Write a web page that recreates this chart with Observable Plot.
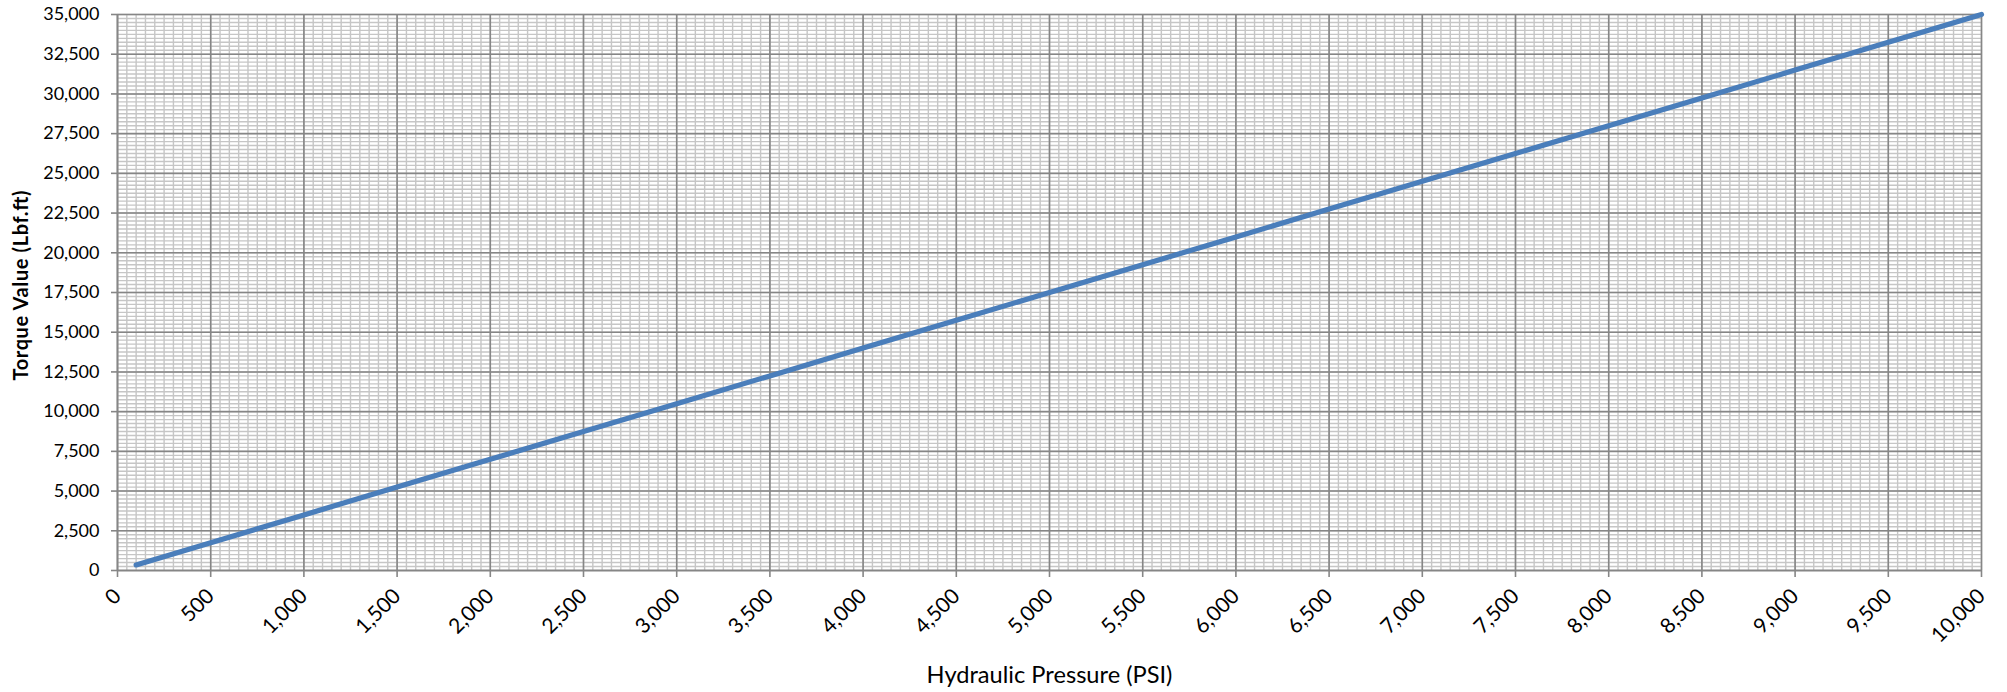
<!DOCTYPE html>
<html>
<head>
<meta charset="utf-8">
<script src="https://cdn.jsdelivr.net/npm/d3@7"></script>
<script src="https://cdn.jsdelivr.net/npm/@observablehq/plot@0.6"></script>
<style>
  html, body { margin: 0; padding: 0; background: #fff; }
  #chart svg { display: block; }
</style>
</head>
<body>
<div id="chart"></div>
<script>
// Hydraulic pressure (PSI) readings and the corresponding torque (Lbf.ft)
const pressure = [100, 500, 1000, 1500, 2000, 2500, 3000, 3500, 4000, 4500, 5000,
                  5500, 6000, 6500, 7000, 7500, 8000, 8500, 9000, 9500, 10000];
const torque   = [350, 1750, 3500, 5250, 7000, 8750, 10500, 12250, 14000, 15750, 17500,
                  19250, 21000, 22750, 24500, 26250, 28000, 29750, 31500, 33250, 35000];
const xTicks = d3.range(0, 10001, 500);
const yTicks = d3.range(0, 35001, 2500);
const xMinor = d3.range(0, 10001, 50);
const yMinor = d3.range(0, 35001, 250);
const xTitle = "Hydraulic Pressure (PSI)";
const yTitle = "Torque Value (Lbf.ft)";

const data = pressure.map((p, i) => ({p, t: torque[i]}));
const font = "Lato, 'Open Sans', sans-serif";

const chart = Plot.plot({
  width: 2007,
  height: 692,
  marginTop: 14,
  marginBottom: 122,
  marginLeft: 117,
  marginRight: 26,
  style: {fontFamily: font, fontSize: "18px", color: "#000", background: "#fff"},
  x: {domain: [0, 10000]},
  y: {domain: [0, 35000]},
  marks: [
    Plot.gridX(xMinor, {stroke: "#c6c6c6", strokeOpacity: 1, strokeWidth: 1.4}),
    Plot.gridY(yMinor, {stroke: "#c6c6c6", strokeOpacity: 1, strokeWidth: 1.4}),
    Plot.gridX(xTicks, {stroke: "#868686", strokeOpacity: 1, strokeWidth: 1.6}),
    Plot.gridY(yTicks, {stroke: "#868686", strokeOpacity: 1, strokeWidth: 1.6}),
    Plot.axisY(yTicks, {tickFormat: d3.format(","), tickSize: 6, tickPadding: 12,
      stroke: "#868686", strokeWidth: 1.6, fontSize: 18, label: null}),
    Plot.axisX(xTicks, {tickFormat: d3.format(","), tickSize: 7, tickPadding: 15, tickRotate: -45,
      stroke: "#868686", strokeWidth: 1.6, fontSize: 21, label: null}),
    Plot.ruleX([0], {stroke: "#868686", strokeWidth: 1.6}),
    Plot.ruleY([0], {stroke: "#868686", strokeWidth: 1.6}),
    Plot.line(data, {x: "p", y: "t", stroke: "#4a7ebb", strokeWidth: 5.2,
      strokeLinecap: "round", strokeLinejoin: "round"}),
    Plot.text([yTitle], {frameAnchor: "left", dx: -96, dy: -7, rotate: -90,
      fontWeight: "bold", fontSize: 20, fill: "#000"}),
    Plot.text([xTitle], {frameAnchor: "bottom", dy: 112, fontSize: 23, fill: "#000"})
  ]
});
document.getElementById("chart").appendChild(chart);

// match the reference's title lengths
chart.querySelectorAll("text").forEach(t => {
  if (t.textContent === yTitle) {
    t.setAttribute("text-anchor", "start");
    t.setAttribute("x", -95);
    t.setAttribute("textLength", 190);
    t.setAttribute("lengthAdjust", "spacing");
  } else if (t.textContent === xTitle) {
    const len = t.getComputedTextLength();
    if (len > 0) t.setAttribute("font-size", (23 * 246 / len).toFixed(2));
  }
});
</script>
</body>
</html>
